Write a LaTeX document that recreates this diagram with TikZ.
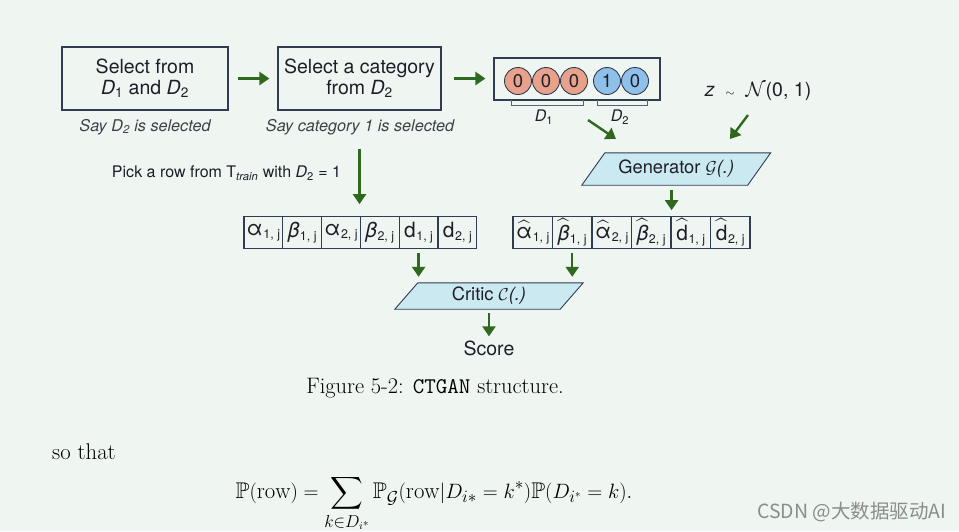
\documentclass[tikz,border=0pt]{standalone}
\usepackage{fontspec}
\usepackage{amssymb}
\newfontfamily\hel{TeX Gyre Heros}
\newfontfamily\cjk{Noto Sans CJK SC}
\usetikzlibrary{arrows.meta}
\definecolor{bg}{RGB}{239,245,240}
\definecolor{arrowgreen}{RGB}{48,104,32}
\definecolor{edge}{RGB}{50,60,80}
\definecolor{salmon}{RGB}{232,162,140}
\definecolor{skyb}{RGB}{142,192,234}
\definecolor{parafill}{RGB}{202,233,240}
\definecolor{txt}{RGB}{30,30,40}
\definecolor{wm}{RGB}{140,140,140}
\newcommand\Dd[1]{\textit{D}\textsubscript{#1}}
\newcommand\cs[1]{\kern0.5pt\raisebox{-3.5pt}{\fontsize{12.5}{12}\selectfont #1}}
\tikzset{
  box/.style={draw=edge, line width=1.2pt, minimum height=63pt, align=center,
    font=\hel\fontsize{19.5}{21}\selectfont, text=txt, inner sep=0pt},
  capt/.style={font=\hel\itshape\fontsize{16.2}{18}\selectfont, text=txt!85, inner sep=0pt},
  arr/.style={draw=arrowgreen, line width=2.4pt, -{Triangle[length=10pt,width=13pt]}},
  circ/.style={circle, draw=edge, line width=0.9pt, minimum size=27pt, inner sep=0pt,
    font=\hel\fontsize{18.5}{18}\selectfont, text=txt},
  brk/.style={draw=edge!80, line width=1pt},
  lab/.style={font=\hel\fontsize{16}{17}\selectfont, text=txt, inner sep=0pt},
  ptext/.style={font=\hel\fontsize{18.3}{20}\selectfont, text=txt, inner sep=0pt},
  para/.style={draw=edge, line width=0.9pt, fill=parafill},
  cell/.style={draw=edge, line width=1.2pt, minimum height=31.5pt, inner sep=0pt,
    font=\hel\fontsize{21}{20}\selectfont, text=txt},
  rcell/.style={cell, minimum width=38.8pt},
  hcell/.style={cell, minimum width=39.5pt},
}
\begin{document}
\begin{tikzpicture}[x=1pt,y=-1pt]
\fill[bg] (0,0) rectangle (959,531);
\useasboundingbox (0,0) rectangle (959,531);

% top boxes
\node[box, minimum width=166pt] (b1) at (145,78.5) {Select from\\\Dd{1} and \Dd{2}};
\node[box, minimum width=163pt] (b2) at (359.5,78.5) {Select a category\\from \Dd{2}};
\node[capt] (c1) at (145,127) {Say \Dd{2} is selected};
\node[capt] (c2) at (360,127) {Say category 1 is selected};

% one-hot vector
\node[draw=edge, line width=1.2pt, minimum width=166pt, minimum height=42pt, inner sep=0pt] (vec) at (577,79) {};
\node[circ, fill=salmon] (v1) at (518,81) {0};
\node[circ, fill=salmon] (v2) at (546,81) {0};
\node[circ, fill=salmon] (v3) at (574,81) {0};
\node[circ, fill=skyb] (v4) at (607,81) {1};
\node[circ, fill=skyb] (v5) at (635,81) {0};
\draw[brk] (511,100) -- (511,105) -- (583,105) -- (583,100);
\draw[brk] (597,100) -- (597,105) -- (647,105) -- (647,100);
\node[lab] (d1l) at (544,117) {\Dd{1}};
\node[lab] (d2l) at (620,117) {\Dd{2}};

\node[ptext, font=\hel\fontsize{19.5}{20}\selectfont] (z) at (758,91) {\textit{z}\ \ {\fontsize{12}{12}\selectfont$\sim$}\ \ $\mathcal{N}$(0, 1)};

% generator
\node[ptext, minimum width=165.5pt, minimum height=32pt] (gen) at (676.25,169) {Generator $\mathcal{G}$\textit{(.)}};
\draw[para] ([xshift=-11.5pt]gen.south west) -- ([xshift=11.5pt]gen.north west)
  -- ([xshift=11.5pt]gen.north east) -- ([xshift=-11.5pt]gen.south east) -- cycle;
\node[ptext] at (gen.center) {Generator $\mathcal{G}$\textit{(.)}};

\node[ptext, font=\hel\fontsize{16}{18}\selectfont] (pick) at (226.5,173) {Pick a row from T\textsubscript{\textit{train}} with \Dd{2} = 1};

% real row
\node[rcell] (r1) at (263.4,232.5) {α\cs{1, j}};
\node[rcell] (r2) at (302.2,232.5) {\textit{β}\cs{1, j}};
\node[rcell] (r3) at (341.0,232.5) {α\cs{2, j}};
\node[rcell] (r4) at (379.8,232.5) {\textit{β}\cs{2, j}};
\node[rcell] (r5) at (418.6,232.5) {d\cs{1, j}};
\node[rcell] (r6) at (457.4,232.5) {d\cs{2, j}};

% generated row
\node[hcell] (h1) at (532.75,232.5) {$\widehat{\hbox{α}}$\cs{1, j}};
\node[hcell] (h2) at (572.25,232.5) {$\widehat{\hbox{\itshape β}}$\cs{1, j}};
\node[hcell] (h3) at (611.75,232.5) {$\widehat{\hbox{α}}$\cs{2, j}};
\node[hcell] (h4) at (651.25,232.5) {$\widehat{\hbox{\itshape β}}$\cs{2, j}};
\node[hcell] (h5) at (690.75,232.5) {$\widehat{\hbox{d}}$\cs{1, j}};
\node[hcell] (h6) at (730.25,232.5) {$\widehat{\hbox{d}}$\cs{2, j}};

% critic
\node[ptext, minimum width=165pt, minimum height=26pt] (cr) at (489,296) {Critic $\mathcal{C}$\textit{(.)}};
\draw[para] ([xshift=-11.5pt]cr.south west) -- ([xshift=11.5pt]cr.north west)
  -- ([xshift=11.5pt]cr.north east) -- ([xshift=-11.5pt]cr.south east) -- cycle;
\node[ptext] at (cr.center) {Critic $\mathcal{C}$\textit{(.)}};

\node[ptext, font=\hel\fontsize{19.5}{20}\selectfont] (score) at (489,348) {Score};

% arrows
\draw[arr, shorten <=9pt, shorten >=8pt] (b1.east) -- (b1.east -| b2.west);
\draw[arr, shorten <=12pt, shorten >=8pt] (b2.east) -- (b2.east -| vec.west);
\draw[arr, shorten <=38pt, shorten >=12pt] (b2.south) -- (b2.south |- r4.north);
\coordinate (a1s) at (588,120);
\coordinate (a1e) at (616,139);
\coordinate (a2s) at (748,115);
\coordinate (a2e) at (730,139);
\draw[arr] (a1s) -- (a1e);
\draw[arr] (a2s) -- (a2e);
\draw[arr, shorten <=5pt, shorten >=6pt] (h4.north east |- gen.south) -- (h4.north east);
\draw[arr, shorten <=4pt, shorten >=6pt] (r5.south) -- (r5.south |- cr.north);
\draw[arr, shorten <=4pt, shorten >=6pt] (h2.south) -- (h2.south |- cr.north);
\draw[arr, shorten <=4pt, shorten >=4pt] (cr.south) -- (score.north);

% caption and text
\node[anchor=base, inner sep=0pt, font=\fontsize{22.4}{24}\selectfont] (fig) at (435,393) {Figure 5-2: \texttt{CTGAN} structure.};
\node[anchor=base west, inner sep=0pt, font=\fontsize{22.7}{24}\selectfont] (so) at (52,459) {so that};
\node[anchor=base, inner sep=0pt, font=\fontsize{22.7}{24}\selectfont] (eq) at (434,498.5)
  {$\displaystyle \mathbb{P}(\mathrm{row}) = \sum_{k\in D_{i^*}} \mathbb{P}_{\mathcal{G}}(\mathrm{row}|D_{i*}=k^*)\mathbb{P}(D_{i^*}=k).$};
\node[anchor=base west, inner sep=0pt, text=wm, font=\cjk\fontsize{19.5}{21}\selectfont] (wmk) at (757,518) {CSDN @大数据驱动AI};
\end{tikzpicture}
\end{document}
